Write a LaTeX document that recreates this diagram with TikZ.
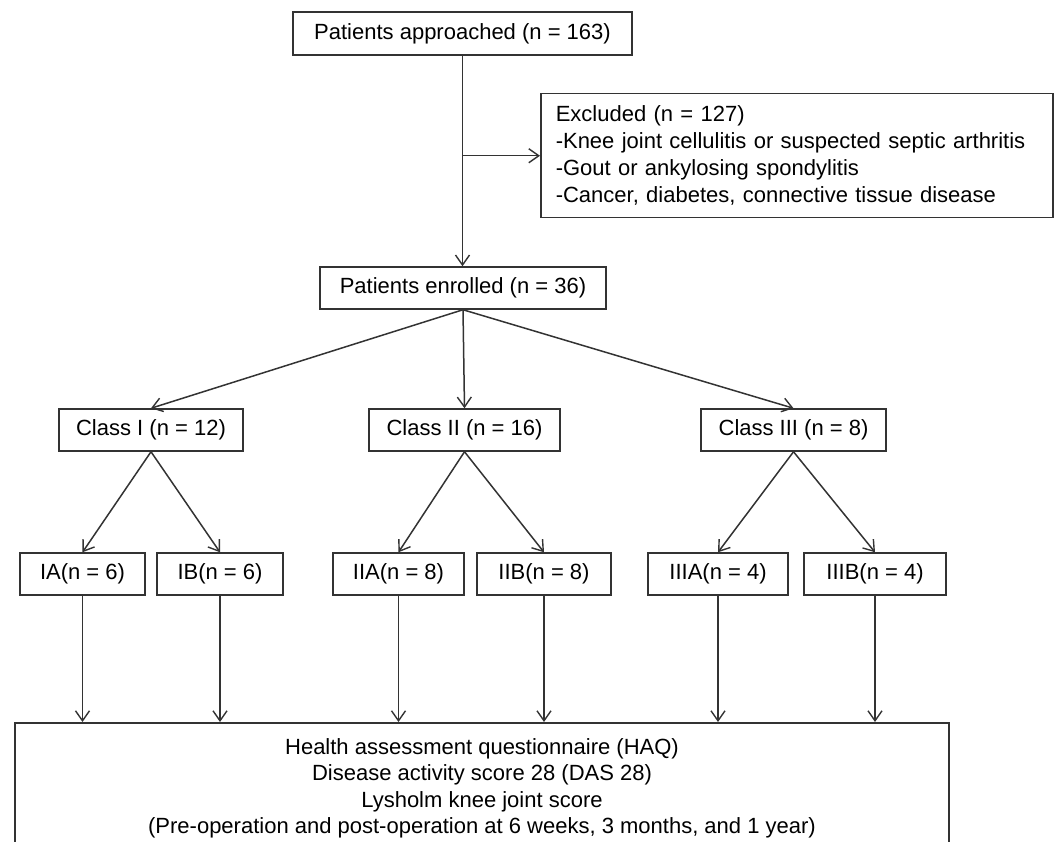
\documentclass[tikz,border=0pt]{standalone}
\usepackage{fontspec}
\setmainfont{Liberation Sans}
\usetikzlibrary{arrows.meta}
\begin{document}
\begin{tikzpicture}[x=1pt,y=-1pt,
  box/.style={draw=black!80, line width=1.5pt, inner sep=0pt, font=\fontsize{22}{27}\selectfont, align=center},
  sub/.style={box, minimum height=42pt},
  arr/.style={draw=black!80, line width=1.5pt, -{Straight Barb[length=10pt,width=14pt,line width=1.4pt]}}]
\useasboundingbox (0,0) rectangle (1056,842);
\clip (0,0) rectangle (1056,842);

\node[box, minimum width=339pt, minimum height=43pt] (top) at (462.5,33.5) {Patients approached (n = 163)};
\node[box, anchor=north west, minimum width=512pt, minimum height=124pt, align=left, text width=482pt, inner xsep=15pt] (excl) at (540,93)
  {Excluded (n = 127)\\-Knee joint cellulitis or suspected septic arthritis\\-Gout or ankylosing spondylitis\\-Cancer, diabetes, connective tissue disease};
\node[box, minimum width=286pt, minimum height=42pt] (enr) at (463,288) {Patients enrolled (n = 36)};

\node[sub, minimum width=184pt] (c1) at (151,430) {Class I (n = 12)};
\node[sub, minimum width=191pt] (c2) at (464.5,430) {Class II (n = 16)};
\node[sub, minimum width=185pt] (c3) at (793.5,430) {Class III (n = 8)};

\node[sub, minimum width=125pt] (ia) at (82.5,574) {IA(n = 6)};
\node[sub, minimum width=126pt] (ib) at (220,574) {IB(n = 6)};
\node[sub, minimum width=131pt] (iia) at (398.5,574) {IIA(n = 8)};
\node[sub, minimum width=134pt] (iib) at (544,574) {IIB(n = 8)};
\node[sub, minimum width=140pt] (iiia) at (718,574) {IIIA(n = 4)};
\node[sub, minimum width=142pt] (iiib) at (875,574) {IIIB(n = 4)};

\node[box, anchor=north, minimum width=934pt, minimum height=131pt, font=\fontsize{22}{26.3}\selectfont] (haq) at (482,722)
  {Health assessment questionnaire (HAQ)\\Disease activity score 28 (DAS 28)\\Lysholm knee joint score\\(Pre-operation and post-operation at 6 weeks, 3 months, and 1 year)};

\draw[arr] (top.south) -- (top.south |- enr.north);
\draw[arr] (top.south |- excl.west) -- (excl.west);

\draw[arr] (enr.south) -- (c1.north);
\draw[arr] (enr.south) -- (c2.north);
\draw[arr] (enr.south) -- (c3.north);

\draw[arr] (c1.south) -- (ia.north);
\draw[arr] (c1.south) -- (ib.north);
\draw[arr] (c2.south) -- (iia.north);
\draw[arr] (c2.south) -- (iib.north);
\draw[arr] (c3.south) -- (iiia.north);
\draw[arr] (c3.south) -- (iiib.north);

\foreach \n in {ia,ib,iia,iib,iiia,iiib}
  \draw[arr] (\n.south) -- (\n.south |- haq.north);
\end{tikzpicture}
\end{document}
